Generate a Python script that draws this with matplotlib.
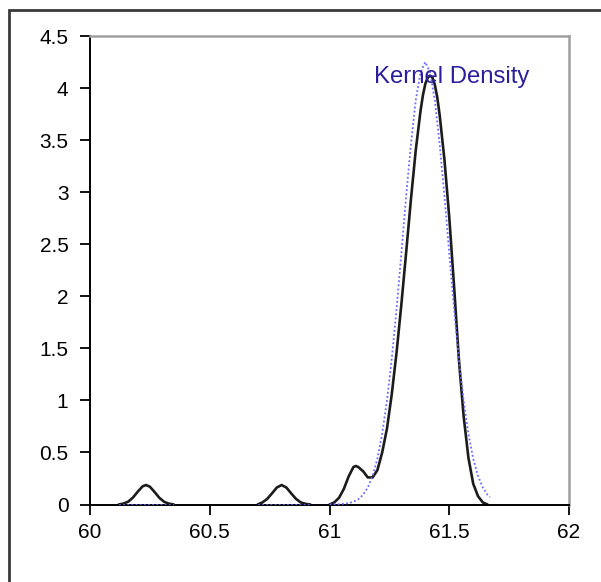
import numpy as np
import matplotlib
matplotlib.use("Agg")
import matplotlib.pyplot as plt
from matplotlib.patches import Rectangle

plt.rcParams['font.family'] = ['Liberation Sans', 'DejaVu Sans']

# Kernel density estimate, drawn as three separate pieces
kde_x1 = [60.12, 60.14, 60.16, 60.18, 60.20, 60.22, 60.234, 60.25, 60.27, 60.29, 60.31, 60.33, 60.35]
kde_y1 = [0.0, 0.009, 0.028, 0.068, 0.125, 0.175, 0.187, 0.171, 0.119, 0.063, 0.025, 0.008, 0.0]

kde_x2 = [60.70, 60.72, 60.74, 60.76, 60.78, 60.80, 60.82, 60.84, 60.86, 60.88, 60.90, 60.92]
kde_y2 = [0.0, 0.020, 0.054, 0.107, 0.163, 0.187, 0.163, 0.107, 0.054, 0.020, 0.006, 0.0]

kde_x3 = [61.00, 61.02, 61.04, 61.06, 61.08, 61.10, 61.11, 61.12, 61.14, 61.16, 61.18,
          61.20, 61.22, 61.24, 61.26, 61.28, 61.30, 61.32, 61.34, 61.36, 61.38, 61.39,
          61.40, 61.41, 61.42, 61.43, 61.44, 61.45, 61.46, 61.48, 61.50, 61.52, 61.54,
          61.56, 61.58, 61.60, 61.62, 61.64, 61.66]
kde_y3 = [0.0, 0.02, 0.065, 0.15, 0.27, 0.36, 0.37, 0.36, 0.32, 0.26, 0.26,
          0.33, 0.50, 0.73, 1.06, 1.46, 1.92, 2.42, 2.93, 3.40, 3.78, 3.93,
          4.04, 4.10, 4.12, 4.10, 4.03, 3.91, 3.74, 3.31, 2.76, 2.10, 1.40,
          0.85, 0.45, 0.20, 0.08, 0.02, 0.0]

# Normal density for comparison (dotted)
norm_x = [61.00, 61.04, 61.08, 61.10, 61.12, 61.14, 61.16, 61.18, 61.20, 61.22, 61.24,
          61.26, 61.28, 61.30, 61.32, 61.34, 61.36, 61.38, 61.40, 61.42, 61.44, 61.46,
          61.48, 61.50, 61.52, 61.54, 61.56, 61.58, 61.60, 61.62, 61.64, 61.66, 61.67]
norm_y = [0.0, 0.003, 0.013, 0.026, 0.05, 0.093, 0.163, 0.275, 0.44, 0.68, 1.00,
          1.40, 1.88, 2.41, 2.96, 3.46, 3.88, 4.15, 4.25, 4.15, 3.88, 3.46,
          2.96, 2.41, 1.88, 1.40, 1.00, 0.68, 0.44, 0.275, 0.163, 0.093, 0.07]

x_ticks = [60, 60.5, 61, 61.5, 62]
x_tick_labels = ["60", "60.5", "61", "61.5", "62"]
y_ticks = [0, 0.5, 1, 1.5, 2, 2.5, 3, 3.5, 4, 4.5]
y_tick_labels = ["0", "0.5", "1", "1.5", "2", "2.5", "3", "3.5", "4", "4.5"]
annotation = "Kernel Density"

fig = plt.figure(figsize=(6.01, 5.82), dpi=100)
fig.patch.set_facecolor('white')

# outer frame around the chart area
fig.patches.append(Rectangle((9 / 601, -0.1), 1.2, 0.1 + (582 - 10) / 582,
                             transform=fig.transFigure, fill=False,
                             edgecolor='#3a3a3a', linewidth=2.0))

ax = fig.add_axes([90 / 601, 77.5 / 582, 479 / 601, 468.5 / 582])

blue = '#6a6aff'
# dotted normal density along the baseline under the small bumps and over the main peak
ax.plot(kde_x1, [0.0] * len(kde_x1), color=blue, lw=1.3, ls=(0, (1, 1.3)), zorder=3)
ax.plot(kde_x2, [0.0] * len(kde_x2), color=blue, lw=1.3, ls=(0, (1, 1.3)), zorder=3)
ax.plot(norm_x, norm_y, color=blue, lw=1.3, ls=(0, (1, 1.3)), zorder=3)

black = '#1c1c1c'
for xs, ys in ((kde_x1, kde_y1), (kde_x2, kde_y2), (kde_x3, kde_y3)):
    ax.plot(xs, ys, color=black, lw=1.9, solid_joinstyle='round',
            solid_capstyle='round', zorder=2)

ax.text(61.186, 4.05, annotation, color='#2b1f9c', fontsize=17.2,
        ha='left', va='baseline', zorder=4)

ax.set_xlim(60, 62)
ax.set_ylim(0, 4.5)
ax.set_xticks(x_ticks)
ax.set_xticklabels(x_tick_labels)
ax.set_yticks(y_ticks)
ax.set_yticklabels(y_tick_labels)

ax.tick_params(axis='both', direction='out', length=7, width=1.3, color='black',
               labelsize=15, labelcolor='black')
ax.tick_params(axis='x', pad=6)
ax.tick_params(axis='y', pad=8.5)

for side in ('left', 'bottom'):
    ax.spines[side].set_color('black')
    ax.spines[side].set_linewidth(1.4)
for side in ('top', 'right'):
    ax.spines[side].set_color('#a0a0a0')
    ax.spines[side].set_linewidth(1.8)

fig.savefig('out.png', dpi=100, facecolor='white')
